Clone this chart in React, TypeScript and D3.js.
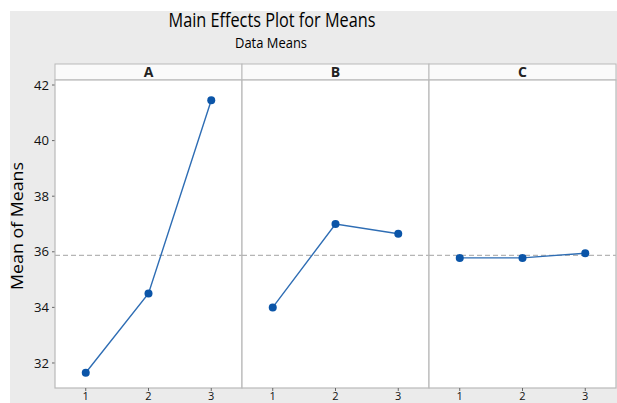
import * as d3 from "d3";

const factors = ["A", "B", "C"];
const levels = ["1", "2", "3"];
const meansA = [31.65, 34.5, 41.45];
const meansB = [34.0, 37.0, 36.65];
const meansC = [35.78, 35.78, 35.95];
const grandMean = 35.87;
const yTicks = [32, 34, 36, 38, 40, 42];

export default function App() {
  const W = 617;
  const H = 403;
  const left = 55;
  const right = 616;
  const stripTop = 64;
  const top = 80;
  const bottom = 388;
  const series = [meansA, meansB, meansC];

  const panel = d3.scaleBand<string>().domain(factors).range([left, right]);
  const x = d3.scalePoint<string>().domain(levels).range([0, panel.bandwidth()]).padding(0.49);
  const y = d3.scaleLinear().domain([31.1, 42.18]).range([bottom, top]);
  const line = d3
    .line<number>()
    .x((_, i) => x(levels[i])!)
    .y((d) => y(d));

  const blue = "#0b55a8";
  const frame = "#b9b9b9";
  const font = "'Open Sans', 'DejaVu Sans', sans-serif";

  return (
    <svg width={W} height={H} style={{ position: "absolute", left: 0, top: 0 }} fontFamily={font}>
      <rect x={10} y={11} width={W - 10} height={H - 11} fill="#ebebeb" />
      <text x={272} y={27} textAnchor="middle" fontSize={20} textLength={207} lengthAdjust="spacingAndGlyphs" fill="#000">
        Main Effects Plot for Means
      </text>
      <text x={271} y={48} textAnchor="middle" fontSize={14} textLength={72} lengthAdjust="spacingAndGlyphs" fill="#000">
        Data Means
      </text>
      <text
        transform={`translate(23, ${(top + bottom) / 2 - 8}) rotate(-90)`}
        textAnchor="middle"
        fontSize={16}
        textLength={128}
        lengthAdjust="spacingAndGlyphs"
        fill="#000"
      >
        Mean of Means
      </text>

      {/* y axis ticks */}
      {yTicks.map((t) => (
        <g key={`yt-${t}`}>
          <line x1={left - 3} x2={left} y1={y(t)} y2={y(t)} stroke="#666" />
          <text x={left - 6} y={y(t)} dy="0.35em" textAnchor="end" fontSize={13} textLength={15} lengthAdjust="spacingAndGlyphs" fill="#111">
            {t}
          </text>
        </g>
      ))}

      {factors.map((f, k) => {
        const px = panel(f)!;
        const pw = panel.bandwidth();
        return (
          <g key={`p-${f}`}>
            <rect x={px} y={stripTop} width={pw} height={top - stripTop} fill="#fafafa" stroke={frame} />
            <text x={px + pw / 2} y={(stripTop + top) / 2} dy="0.36em" textAnchor="middle" fontSize={14} fontWeight="bold" fill="#222">
              {f}
            </text>
            <rect x={px} y={top} width={pw} height={bottom - top} fill="#fff" stroke={frame} strokeWidth={1.2} />
            <line x1={px} x2={px + pw} y1={y(grandMean)} y2={y(grandMean)} stroke="#b5b5b5" strokeWidth={1.4} strokeDasharray="5,3" />
            <g transform={`translate(${px},0)`}>
              <path d={line(series[k])!} fill="none" stroke="#2e6db4" strokeWidth={1.4} />
              {series[k].map((v, i) => (
                <circle key={`pt-${f}-${i}`} cx={x(levels[i])!} cy={y(v)} r={4} fill={blue} />
              ))}
              {levels.map((l) => (
                <g key={`xt-${f}-${l}`}>
                  <line x1={x(l)!} x2={x(l)!} y1={bottom} y2={bottom + 3} stroke="#666" />
                  <text x={x(l)!} y={bottom + 12} textAnchor="middle" fontSize={11} fill="#111">
                    {l}
                  </text>
                </g>
              ))}
            </g>
          </g>
        );
      })}
    </svg>
  );
}
